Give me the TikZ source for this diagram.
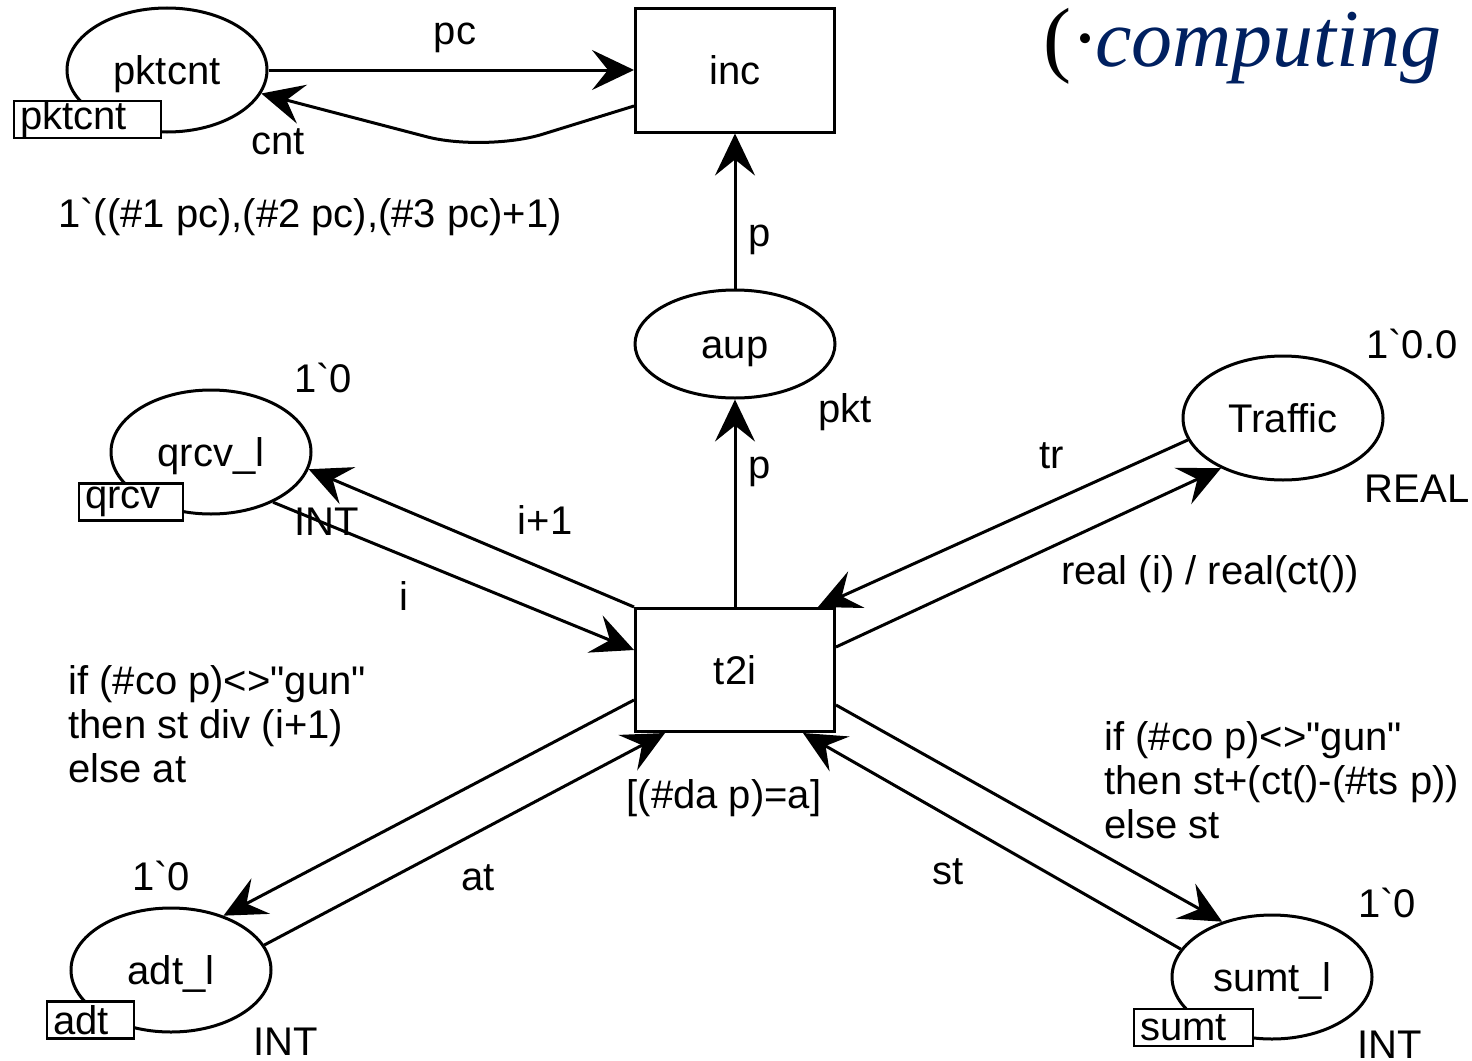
\documentclass[tikz,border=0pt]{standalone}
\usepackage{fontspec}
\newfontfamily\arialf{Liberation Sans}
\newfontfamily\timesf{Liberation Serif}
\usetikzlibrary{arrows.meta,shapes.geometric}
\definecolor{navy}{HTML}{002060}
\begin{document}
\begin{tikzpicture}[x=0.5pt,y=-0.5pt,
  every node/.style={font=\arialf\fontsize{20}{24}\selectfont},
  place/.style={ellipse,draw,line width=1.5pt,minimum width=100pt,minimum height=62pt,inner sep=0pt,text height=17.4pt,text depth=3pt},
  trans/.style={rectangle,draw,line width=1.5pt,minimum width=99.5pt,minimum height=62pt,inner sep=0pt,text height=17.4pt,text depth=3pt},
  tag/.style={rectangle,draw,fill=white,line width=1.3pt,inner xsep=3pt,inner ysep=0pt,minimum height=18.5pt,align=left},
  lbl/.style={inner sep=0pt},
  arc/.style={line width=1.5pt,-{Stealth[length=21pt,width=20pt,inset=8pt]}}]
\useasboundingbox (0,0) rectangle (1472,1060);

% places and transitions
\node[place] (pktcnt) at (167,70) {pktcnt};
\node[trans] (inc) at (735,70) {inc};
\node[place,minimum height=54pt] (aup) at (735,344) {aup};
\node[trans,minimum height=61.5pt] (t2i) at (735,670) {t2i};
\node[place] (traffic) at (1283,418) {Traffic};
\node[place] (qrcv) at (211,452) {qrcv\_l};
\node[place] (adt) at (171,970) {adt\_l};
\node[place] (sumt) at (1272,977) {sumt\_l};

% fusion tags
\node[tag,text width=67.5pt] (pktcnttag) at (87.5,119.5) {pktcnt};
\node[tag,text width=46pt] (qrcvtag) at (131,502) {qrcv};
\node[tag,text width=37.5pt] (adttag) at (90.5,1020) {adt};
\node[tag,text width=53.5pt] (sumttag) at (1193.5,1027.5) {sumt};

% arcs
\draw[arc] (pktcnt.east) -- (inc.west);
\draw[arc,rounded corners=30pt] ([yshift=-18pt]inc.west) -- (485,152) -- (pktcnt.-14);
\draw[arc] (aup.north) -- (inc.south);
\draw[arc] (t2i.north) -- (aup.south);
\draw[arc] (t2i.north west) -- (qrcv.-10);
\draw[arc] (qrcv.-39) -- ([yshift=10pt]t2i.west);
\draw[arc] (traffic.193) -- ([xshift=41.5pt]t2i.north);
\draw[arc] ([yshift=11.5pt]t2i.east) -- (traffic.219);
\draw[arc] ([yshift=-15pt]t2i.west) -- (adt.46);
\draw[arc] (adt.15) -- ([xshift=-35pt]t2i.south);
\draw[arc] ([yshift=-17.5pt]t2i.east) -- (sumt.132);
\draw[arc] (sumt.163) -- ([xshift=34pt]t2i.south);

% labels
\node[lbl] (lpc) at (455,38) {pc};
\node[lbl] (lcnt) at (278,142) {cnt};
\node[lbl] (lcode) at (310,217) {1`((\#1 pc),(\#2 pc),(\#3 pc)+1)};
\node[lbl] (lp1) at (760,240) {p};
\node[lbl] (lp2) at (760,472) {p};
\node[lbl] (lpkt) at (845,412) {pkt};
\node[lbl] (ltrinit) at (1412,344) {1`0.0};
\node[lbl] (lreal) at (1417,489) {REAL};
\node[lbl] (ltr) at (1052,456) {tr};
\node[lbl] (lrealexp) at (1210,574) {real (i) / real(ct())};
\node[lbl] (lqinit) at (323,378) {1`0};
\node[lbl] (lqint) at (327,522) {INT};
\node[lbl] (lip1) at (545,520) {i+1};
\node[lbl] (li) at (404,596) {i};
\node[lbl,anchor=base west] (lif1) at (68,694) {if (\#co p)<>"gun"};
\node[lbl,anchor=base west] (lif2) at (68,738) {then st div (i+1)};
\node[lbl,anchor=base west] (lif3) at (68,782) {else at};
\node[lbl] (lguard) at (724,798) {[(\#da p)=a]};
\node[lbl] (lat) at (478,878) {at};
\node[lbl] (lainit) at (161,876) {1`0};
\node[lbl] (laint) at (286,1042) {INT};
\node[lbl] (lst) at (948,872) {st};
\node[lbl] (lsinit) at (1387,903) {1`0};
\node[lbl] (lsint) at (1390,1045) {INT};
\node[lbl,anchor=base west] (rif1) at (1104,750) {if (\#co p)<>"gun"};
\node[lbl,anchor=base west] (rif2) at (1104,794) {then st+(ct()-(\#ts p))};
\node[lbl,anchor=base west] (rif3) at (1104,838) {else st};

% title fragment
\node[lbl,anchor=base west,font=\timesf\fontsize{42}{50}\selectfont] (paren) at (1043,66) {(·\kern-2.5pt};
\node[lbl,anchor=base west,font=\timesf\itshape\fontsize{41}{50}\selectfont,text=navy] (comp) at (paren.base east) {computing};
\node[lbl,anchor=base west,font=\timesf\itshape\fontsize{41}{50}\selectfont,text=navy] (compf) at (1476,66) {f};
\end{tikzpicture}
\end{document}
